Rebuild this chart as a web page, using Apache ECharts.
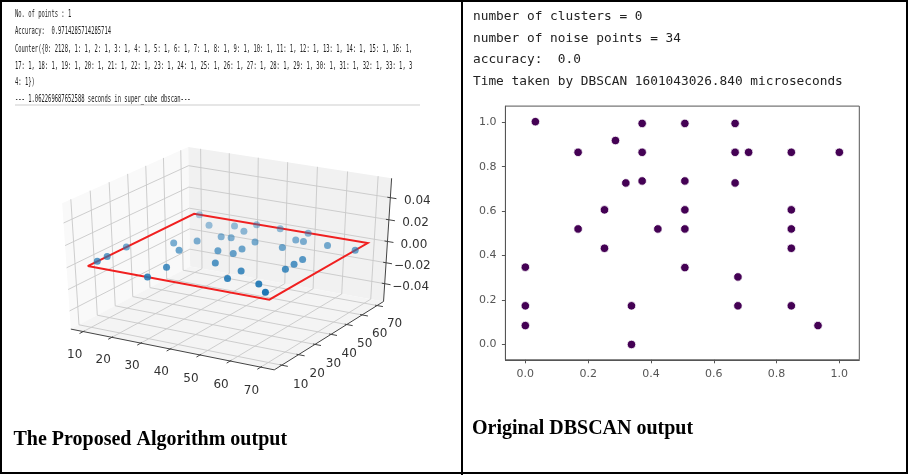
<!DOCTYPE html>
<html>
<head>
<meta charset="utf-8">
<title>DBSCAN comparison</title>
<script src="https://cdn.jsdelivr.net/npm/echarts@6/dist/echarts.min.js"></script>
<style>
  html, body { margin: 0; padding: 0; background: #fff; }
  #main { width: 910px; height: 475px; }
</style>
</head>
<body>
<div id="main"></div>
<script>
// ---------- data ----------
// left: proposed algorithm, 3d scatter (raw units, all points on z = 0)
var xTicks3d = [10, 20, 30, 40, 50, 60, 70];
var yTicks3d = [10, 20, 30, 40, 50, 60, 70];
var zTicks3d = [-0.04, -0.02, 0, 0.02, 0.04];
var zTickLabels = ['\u22120.04', '\u22120.02', '0.00', '0.02', '0.04'];
var propX = [11.9, 27.2, 20.1, 32.3, 32.3, 32.3, 29.2, 40.5, 40.5, 40.5, 40.5, 40.5, 35.3, 25.1, 20.1, 25.1, 10, 10,
  10, 30.3, 30.3, 50.1, 50.1, 52.7, 50.1, 60.8, 70, 60.8, 60.8, 60.8, 50.6, 50.6, 60.8, 65.9];
var propY = [70, 65.1, 61.9, 69.7, 61.9, 54.2, 53.6, 69.7, 54.2, 46.4, 41.2, 30.8, 41.2, 46.4, 41.2, 36.0, 30.9, 20.4,
  15.1, 20.4, 10, 69.7, 61.9, 61.9, 53.6, 61.9, 61.9, 46.4, 41.2, 36.0, 28.2, 20.4, 20.4, 15.1];
var planeZ = 0;
var boxX = [10, 70]; // red rectangle
var boxY = [10, 70];

// right: original DBSCAN, normalised values
var dbX = [0.032, 0.287, 0.168, 0.372, 0.372, 0.372, 0.320, 0.508, 0.508, 0.508, 0.508, 0.508, 0.422, 0.252, 0.168,
  0.252, 0, 0, 0, 0.338, 0.338, 0.668, 0.668, 0.711, 0.668, 0.847, 1.0, 0.847, 0.847, 0.847, 0.677, 0.677, 0.847, 0.932];
var dbY = [1.003, 0.918, 0.865, 0.995, 0.865, 0.736, 0.727, 0.995, 0.736, 0.606, 0.520, 0.346, 0.520, 0.606, 0.520,
  0.433, 0.348, 0.174, 0.085, 0.174, 0, 0.995, 0.865, 0.865, 0.727, 0.865, 0.865, 0.606, 0.520, 0.433, 0.304, 0.174,
  0.174, 0.085];
var ticks2d = [0, 0.2, 0.4, 0.6, 0.8, 1.0];

var leftLog = [
  'No. of points : 1',
  'Accuracy:  0.9714285714285714',
  'Counter({0: 2128, 1: 1, 2: 1, 3: 1, 4: 1, 5: 1, 6: 1, 7: 1, 8: 1, 9: 1, 10: 1, 11: 1, 12: 1, 13: 1, 14: 1, 15: 1, 16: 1,',
  '17: 1, 18: 1, 19: 1, 20: 1, 21: 1, 22: 1, 23: 1, 24: 1, 25: 1, 26: 1, 27: 1, 28: 1, 29: 1, 30: 1, 31: 1, 32: 1, 33: 1, 3',
  '4: 1})',
  '--- 1.062269687652588 seconds in super_cube dbscan---'
];
var rightLog = [
  'number of clusters = 0',
  'number of noise points = 34',
  'accuracy:  0.0',
  'Time taken by DBSCAN 1601043026.840 microseconds'
];

// ---------- mplot3d style projection (elev 30, azim -60) ----------
var xLim = [7, 73], yLim = [7, 73], zLim = [-0.055, 0.055];
var lo = -1 / 48, hi = 1 + 1 / 48;
var elev = 30 * Math.PI / 180, azim = -60 * Math.PI / 180, dist = 10;

function sub(a, b) { return [a[0] - b[0], a[1] - b[1], a[2] - b[2]]; }
function dot(a, b) { return a[0] * b[0] + a[1] * b[1] + a[2] * b[2]; }
function cross(a, b) { return [a[1] * b[2] - a[2] * b[1], a[2] * b[0] - a[0] * b[2], a[0] * b[1] - a[1] * b[0]]; }
function unit(a) { var l = Math.sqrt(dot(a, a)); return [a[0] / l, a[1] / l, a[2] / l]; }

var eye = [0.5 + Math.cos(azim) * Math.cos(elev) * dist, 0.5 + Math.sin(azim) * Math.cos(elev) * dist, 0.5 + Math.sin(elev) * dist];
var vn = unit(sub(eye, [0.5, 0.5, 0.5]));
var vu = unit(cross([0, 0, 1], vn));
var vv = cross(vn, vu);

function wx(x) { return (x - xLim[0]) / (xLim[1] - xLim[0]); }
function wy(y) { return (y - yLim[0]) / (yLim[1] - yLim[0]); }
function wz(z) { return (z - zLim[0]) / (zLim[1] - zLim[0]); }
// world (0..1 cube) -> projected [X, Y, depth]
function P3(a, b, c) {
  var d = sub([a, b, c], eye);
  var w = -dot(vn, d);
  return [dot(vu, d) / w, dot(vv, d) / w, w];
}
function P(a, b, c) { var p = P3(a, b, c); return [p[0], p[1]]; }

// panes
var panes = [
  { pts: [P(lo, lo, lo), P(lo, hi, lo), P(lo, hi, hi), P(lo, lo, hi)], fill: '#f9f9f9' },
  { pts: [P(lo, hi, lo), P(hi, hi, lo), P(hi, hi, hi), P(lo, hi, hi)], fill: '#f1f1f1' },
  { pts: [P(lo, lo, lo), P(hi, lo, lo), P(hi, hi, lo), P(lo, hi, lo)], fill: '#f4f4f4' }
];

// grid lines
var gridLines = [];
xTicks3d.forEach(function (t) {
  var a = wx(t);
  gridLines.push({ coords: [P(a, lo, lo), P(a, hi, lo), P(a, hi, hi)] });
});
yTicks3d.forEach(function (t) {
  var b = wy(t);
  gridLines.push({ coords: [P(hi, b, lo), P(lo, b, lo), P(lo, b, hi)] });
});
zTicks3d.forEach(function (t) {
  var c = wz(t);
  gridLines.push({ coords: [P(lo, lo, c), P(lo, hi, c), P(hi, hi, c)] });
});

// axis lines + tick marks
var axisLines = [
  { coords: [P(lo, lo, lo), P(hi, lo, lo)] },
  { coords: [P(hi, lo, lo), P(hi, hi, lo)] },
  { coords: [P(hi, hi, lo), P(hi, hi, hi)] }
];
xTicks3d.forEach(function (t) { var a = wx(t); axisLines.push({ coords: [P(a, lo + 0.01, lo), P(a, lo - 0.03, lo)] }); });
yTicks3d.forEach(function (t) { var b = wy(t); axisLines.push({ coords: [P(hi - 0.01, b, lo), P(hi + 0.03, b, lo)] }); });
zTicks3d.forEach(function (t) { var c = wz(t); axisLines.push({ coords: [P(hi - 0.015, hi, c), P(hi + 0.03, hi, c)] }); });

// tick labels
var tickLabels3d = [];
xTicks3d.forEach(function (t) { tickLabels3d.push({ pos: P(wx(t), lo - 0.079, lo - 0.155), text: String(t) }); });
yTicks3d.forEach(function (t) { tickLabels3d.push({ pos: P(hi + 0.095, wy(t), lo - 0.135), text: String(t) }); });
zTicks3d.forEach(function (t, i) { tickLabels3d.push({ pos: P(hi + 0.125, hi + 0.015, wz(t)), text: zTickLabels[i] }); });

// red rectangle at z = 0
var zc = wz(planeZ);
var rectLine = [{ coords: [
  P(wx(boxX[0]), wy(boxY[0]), zc), P(wx(boxX[1]), wy(boxY[0]), zc), P(wx(boxX[1]), wy(boxY[1]), zc),
  P(wx(boxX[0]), wy(boxY[1]), zc), P(wx(boxX[0]), wy(boxY[0]), zc)
] }];

// points with depth shading, far ones first
var proj = propX.map(function (x, i) { return P3(wx(x), wy(propY[i]), zc); });
var depth = proj.map(function (p) { return -10 / p[2]; });
var dMin = Math.min.apply(null, depth), dMax = Math.max.apply(null, depth);
var propPts = proj.map(function (p, i) {
  var k = (depth[i] - dMin) / (dMax - dMin);
  return { value: [p[0], p[1]], depth: depth[i], itemStyle: { opacity: 1 - 0.65 * k } };
}).sort(function (a, b) { return b.depth - a.depth; });

var dbPts = dbX.map(function (x, i) { return [x, dbY[i]]; });

// ---------- graphic: borders, captions, printed logs ----------
var graphics = [
  { type: 'rect', shape: { x: 1, y: 1, width: 906, height: 472 }, style: { fill: 'none', stroke: '#000', lineWidth: 2 }, z: 100 },
  { type: 'line', shape: { x1: 462, y1: 0, x2: 462, y2: 475 }, style: { stroke: '#000', lineWidth: 2 }, z: 100 },
  { type: 'line', shape: { x1: 15, y1: 105, x2: 420, y2: 105 }, style: { stroke: '#e6e6e6', lineWidth: 2 } },
  { type: 'text', x: 13.5, y: 440, style: { text: 'The Proposed Algorithm output', fontFamily: 'Liberation Serif', fontWeight: 'bold', fontSize: 20, fill: '#000', verticalAlign: 'middle' } },
  { type: 'text', x: 472, y: 428.5, style: { text: 'Original DBSCAN output', fontFamily: 'Liberation Serif', fontWeight: 'bold', fontSize: 20, fill: '#000', verticalAlign: 'middle' } }
];
var leftY = [14.3, 31.3, 49.3, 65.7, 81.7, 99.3];
leftLog.forEach(function (s, i) {
  graphics.push({ type: 'text', x: 15, y: leftY[i], scaleX: 0.5,
    style: { text: s, fontFamily: 'DejaVu Sans Mono', fontSize: 11, fill: '#222', verticalAlign: 'middle' } });
});
rightLog.forEach(function (s, i) {
  graphics.push({ type: 'text', x: 473, y: 16.7 + i * 21.7,
    style: { text: s, fontFamily: 'DejaVu Sans Mono', fontSize: 12.8, fill: '#222', verticalAlign: 'middle' } });
});

function fmt1(v) { return v.toFixed(1); }

var chart = echarts.init(document.getElementById('main'), null, { renderer: 'canvas' });
chart.setOption({
  animation: false,
  backgroundColor: '#fff',
  graphic: graphics,
  grid: [
    { left: 505.4, top: 106.1, width: 353.9, height: 253.7, show: true, borderColor: '#555', borderWidth: 1 },
    { left: 4.28, top: 116.4, width: 450.84, height: 303.6, show: false }
  ],
  xAxis: [
    {
      gridIndex: 0, type: 'value', min: -0.0635, max: 1.0635,
      axisLine: { onZero: false, lineStyle: { color: '#555', width: 1 } },
      axisTick: { show: true, length: 3.5, customValues: ticks2d, lineStyle: { color: '#555' } },
      axisLabel: { customValues: ticks2d, formatter: fmt1, color: '#555', fontSize: 11, fontFamily: 'DejaVu Sans', margin: 9 },
      splitLine: { show: false }
    },
    { gridIndex: 1, type: 'value', min: -0.1, max: 0.1, show: false }
  ],
  yAxis: [
    {
      gridIndex: 0, type: 'value', min: -0.069, max: 1.073,
      axisLine: { show: true, onZero: false, lineStyle: { color: '#555', width: 1 } },
      axisTick: { show: true, length: 3.5, customValues: ticks2d, lineStyle: { color: '#555' } },
      axisLabel: { customValues: ticks2d, formatter: fmt1, color: '#555', fontSize: 11, fontFamily: 'DejaVu Sans', margin: 9 },
      splitLine: { show: false }
    },
    { gridIndex: 1, type: 'value', min: -0.12, max: 0.1, show: false }
  ],
  series: [
    {
      type: 'scatter', xAxisIndex: 0, yAxisIndex: 0, data: dbPts,
      symbolSize: 8.5, itemStyle: { color: '#440154', borderColor: '#fff', borderWidth: 0.8, opacity: 1 }, z: 5
    },
    {
      type: 'custom', xAxisIndex: 1, yAxisIndex: 1, clip: false, silent: true, z: 1,
      data: panes.map(function () { return [0, 0]; }),
      renderItem: function (params, api) {
        var pane = panes[params.dataIndex];
        return { type: 'polygon', shape: { points: pane.pts.map(function (p) { return api.coord(p); }) }, style: { fill: pane.fill } };
      }
    },
    {
      type: 'lines', coordinateSystem: 'cartesian2d', xAxisIndex: 1, yAxisIndex: 1, polyline: true, silent: true, z: 2,
      data: gridLines, lineStyle: { color: '#c8c8c8', width: 0.9, opacity: 1 }
    },
    {
      type: 'lines', coordinateSystem: 'cartesian2d', xAxisIndex: 1, yAxisIndex: 1, polyline: true, silent: true, z: 3,
      data: axisLines, lineStyle: { color: '#444', width: 1, opacity: 1 }
    },
    {
      type: 'lines', coordinateSystem: 'cartesian2d', xAxisIndex: 1, yAxisIndex: 1, polyline: true, silent: true, z: 4,
      data: rectLine, lineStyle: { color: '#f02020', width: 2, opacity: 1 }
    },
    {
      type: 'scatter', xAxisIndex: 1, yAxisIndex: 1, data: propPts, clip: false,
      symbolSize: 7, itemStyle: { color: '#1f77b4' }, z: 5
    },
    {
      type: 'custom', xAxisIndex: 1, yAxisIndex: 1, clip: false, silent: true, z: 6,
      data: tickLabels3d.map(function (l) { return l.pos; }),
      renderItem: function (params, api) {
        var l = tickLabels3d[params.dataIndex];
        var c = api.coord(l.pos);
        return { type: 'text', x: c[0], y: c[1],
          style: { text: l.text, fill: '#333', fontSize: 12, fontFamily: 'DejaVu Sans', align: 'center', verticalAlign: 'middle' } };
      }
    }
  ]
});
</script>
</body>
</html>
